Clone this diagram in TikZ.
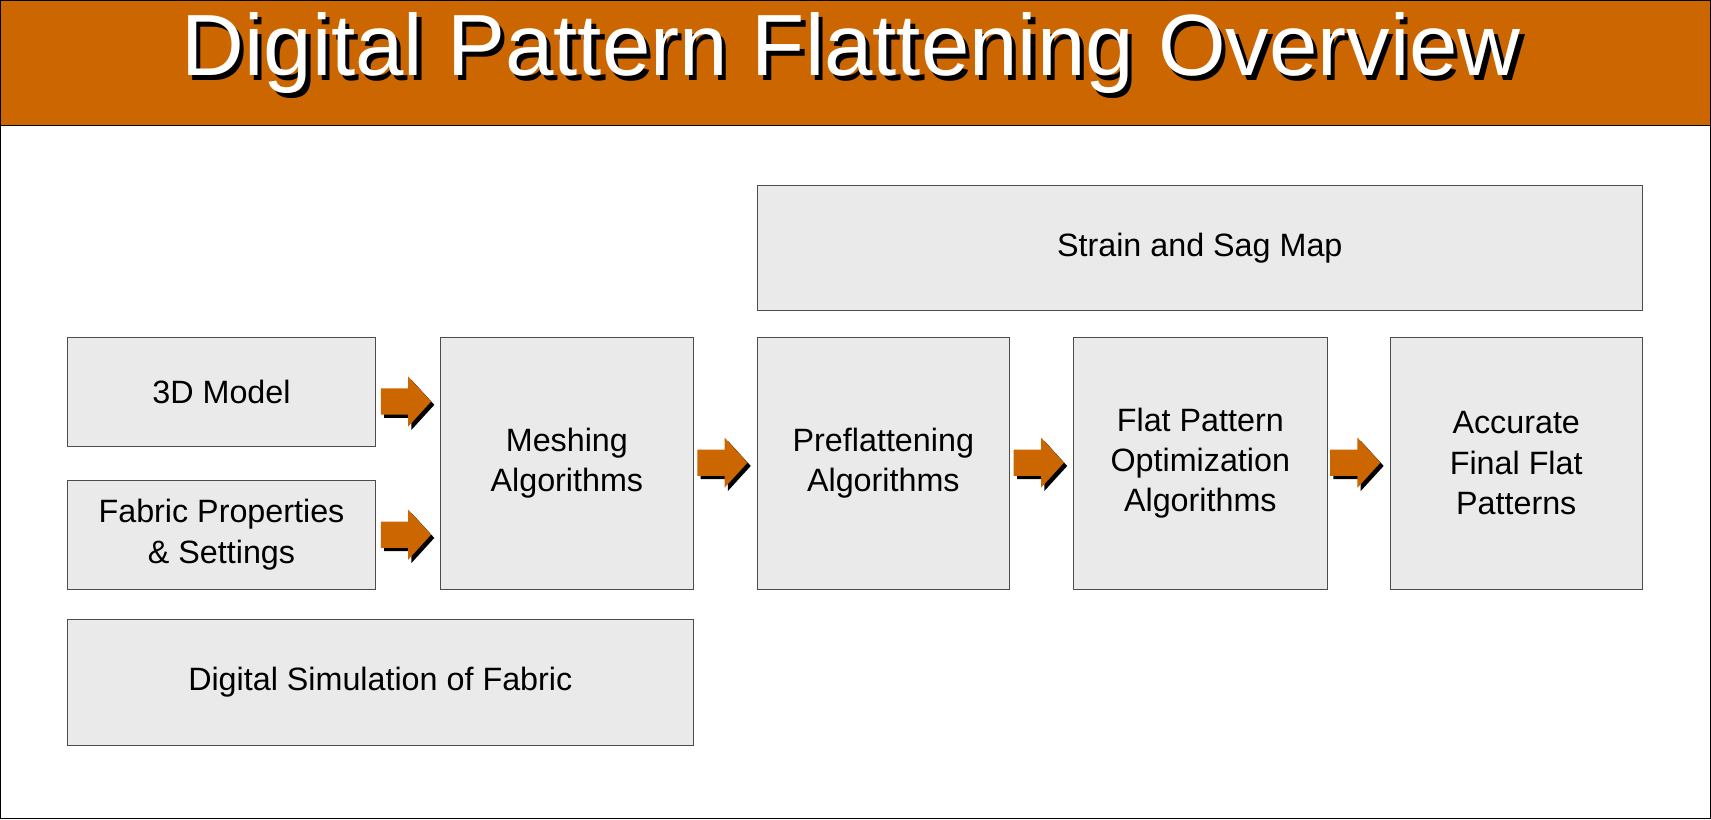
\documentclass[tikz,border=0pt]{standalone}
\usepackage{fontspec}
\setmainfont{Liberation Sans}
\definecolor{org}{HTML}{CC6600}
\definecolor{boxg}{HTML}{EAEAEA}
\newcommand\blockarr[1]{%
  \foreach \dx/\dy/\col in {3/3/black,0/0/org}{
  \fill[\col] ([shift={(-23+\dx,-12+\dy)}]#1) -- ++(25,0) -- ++(0,-11) -- ++(21,23) -- ++(-21,23) -- ++(0,-11) -- ++(-25,0) -- cycle;}}
\begin{document}
\begin{tikzpicture}[x=0.0291cm,y=-0.0291cm,
  bx/.style={draw=black!70,fill=boxg,line width=0.6pt,align=center}]
\useasboundingbox (0,0) rectangle (1568,751);
\draw[fill=white,line width=0.8pt] (0.5,0.5) rectangle (1567.5,750.5);
\draw[fill=org,line width=0.8pt] (0.5,0.5) rectangle (1567.5,115);
\node[font=\fontsize{66}{70}\selectfont,text=black] at (784,53) {Digital Pattern Flattening Overview};
\node[font=\fontsize{66}{70}\selectfont,text=white] (title) at (780,49) {Digital Pattern Flattening Overview};
\newcommand\bxat[5]{\node[bx,minimum width={(#4-#2)*0.0291cm},minimum height={(#5-#3)*0.0291cm}] (#1) at ({(#2+#4)/2},{(#3+#5)/2}) {};}
\bxat{strain}{694}{170}{1505}{284}
\bxat{model}{62}{309}{344}{409}
\bxat{fabric}{62}{440}{344}{540}
\bxat{mesh}{404}{309}{635}{540}
\bxat{pre}{694}{309}{925}{540}
\bxat{flat}{984}{309}{1216}{540}
\bxat{acc}{1274}{309}{1505}{540}
\bxat{sim}{62}{568}{635}{683}
\tikzset{lb/.style={align=center,font=\fontsize{24.5}{30.5}\selectfont}}
\node[lb] at (strain) {Strain and Sag Map};
\node[lb] at (model) {3D Model};
\node[lb] at (fabric) {Fabric Properties\\\& Settings};
\node[lb] at (mesh) {Meshing\\Algorithms};
\node[lb] at (pre) {Preflattening\\Algorithms};
\node[lb] at (flat) {Flat Pattern\\Optimization\\Algorithms};
\node[lb] at (acc) {Accurate\\Final Flat\\Patterns};
\node[lb] at (sim) {Digital Simulation of Fabric};
\coordinate (a1) at (372,368);
\coordinate (a2) at (372,490);
\coordinate (a3) at (662,424);
\coordinate (a4) at (952,424);
\coordinate (a5) at (1242,424);
\blockarr{a1}\blockarr{a2}\blockarr{a3}\blockarr{a4}\blockarr{a5}
\end{tikzpicture}
\end{document}
